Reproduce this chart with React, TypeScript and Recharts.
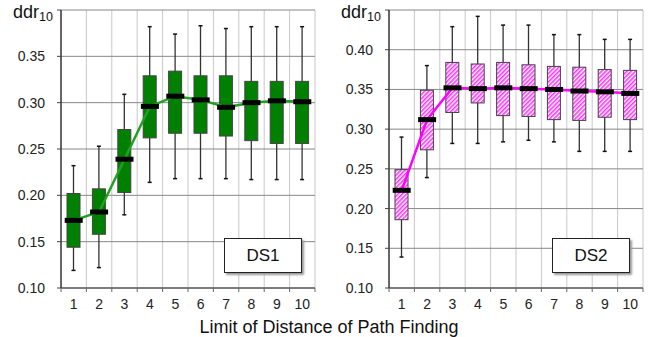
import React from "react";
import { ComposedChart, Bar, Line, XAxis, YAxis, CartesianGrid } from "recharts";

const categories = ["1", "2", "3", "4", "5", "6", "7", "8", "9", "10"];

const ds1Min = [0.119, 0.122, 0.179, 0.214, 0.218, 0.218, 0.218, 0.217, 0.217, 0.217];
const ds1Q1 = [0.144, 0.158, 0.203, 0.262, 0.267, 0.267, 0.264, 0.259, 0.256, 0.256];
const ds1Median = [0.173, 0.182, 0.239, 0.296, 0.307, 0.303, 0.295, 0.3, 0.302, 0.301];
const ds1Q3 = [0.202, 0.207, 0.271, 0.329, 0.334, 0.329, 0.329, 0.323, 0.323, 0.323];
const ds1Max = [0.232, 0.253, 0.309, 0.382, 0.374, 0.383, 0.38, 0.382, 0.382, 0.382];

const ds2Min = [0.139, 0.239, 0.282, 0.282, 0.284, 0.286, 0.284, 0.272, 0.272, 0.272];
const ds2Q1 = [0.186, 0.274, 0.321, 0.333, 0.317, 0.316, 0.312, 0.311, 0.315, 0.312];
const ds2Median = [0.223, 0.312, 0.352, 0.351, 0.352, 0.351, 0.35, 0.348, 0.347, 0.345];
const ds2Q3 = [0.249, 0.349, 0.384, 0.382, 0.384, 0.381, 0.379, 0.378, 0.375, 0.374];
const ds2Max = [0.29, 0.38, 0.429, 0.442, 0.431, 0.431, 0.419, 0.419, 0.413, 0.413];

const ds1Ticks = [0.1, 0.15, 0.2, 0.25, 0.3, 0.35, 0.4];
const ds2Ticks = [0.1, 0.15, 0.2, 0.25, 0.3, 0.35, 0.4, 0.45];

const FONT = "'Liberation Sans', Arial, sans-serif";
const PLOT_W = 254;

type Row = { cat: string; range: number[]; min: number; q1: number; median: number; q3: number; max: number };

function buildRows(mn: number[], q1: number[], md: number[], q3: number[], mx: number[]): Row[] {
  return categories.map((c, i) => ({
    cat: c,
    range: [mn[i], mx[i]],
    min: mn[i],
    q1: q1[i],
    median: md[i],
    q3: q3[i],
    max: mx[i],
  }));
}

const ds1Rows = buildRows(ds1Min, ds1Q1, ds1Median, ds1Q3, ds1Max);
const ds2Rows = buildRows(ds2Min, ds2Q1, ds2Median, ds2Q3, ds2Max);

// box + whiskers drawn inside the min..max range bar
function makeBox(fill: string) {
  return (props: any) => {
    const { x, y, width, height, payload } = props;
    const top = Math.min(y, y + height);
    const bottom = Math.max(y, y + height);
    const span = payload.max - payload.min;
    const py = (v: number) => bottom - ((v - payload.min) / span) * (bottom - top);
    const cx = x + width / 2;
    return (
      <g>
        <line x1={cx} x2={cx} y1={top} y2={bottom} stroke="#333" strokeWidth={1.3} />
        <line x1={cx - 2} x2={cx + 2} y1={top} y2={top} stroke="#111" strokeWidth={1.5} />
        <line x1={cx - 2} x2={cx + 2} y1={bottom} y2={bottom} stroke="#111" strokeWidth={1.5} />
        <rect x={x} y={py(payload.q3)} width={width} height={py(payload.q1) - py(payload.q3)} fill={fill} stroke="#444" strokeWidth={1} />
      </g>
    );
  };
}

const medianDot = (p: any) => (
  <rect key={"m" + p.index} x={p.cx - 9} y={p.cy - 2.5} width={18} height={5} fill="#000" />
);

function XTick(props: any) {
  const { x, y, payload, index } = props;
  const half = PLOT_W / categories.length / 2;
  const ay = y - 8;
  return (
    <g>
      <line x1={x - half} x2={x - half} y1={ay} y2={ay + 4} stroke="#666" />
      {index === categories.length - 1 && <line x1={x + half} x2={x + half} y1={ay} y2={ay + 4} stroke="#666" />}
      <text x={x} y={ay + 21} textAnchor="middle" fontSize={14} fill="#222" fontFamily={FONT}>
        {payload.value}
      </text>
    </g>
  );
}

function Panel({ rows, ticks, fill, lineColor, right, label }: any) {
  const top = ticks[ticks.length - 1];
  return (
    <ComposedChart width={right ? 320 : 330} height={337} data={rows} margin={{ top: 10, right: right ? 5 : 15, bottom: 27, left: 0 }}>
      <CartesianGrid
        horizontal={false}
        stroke="#c8c8c8"
        verticalCoordinatesGenerator={({ offset }: any) =>
          categories.map((_, i) => offset.left + ((i + 1) * offset.width) / categories.length)
        }
      />
      <CartesianGrid vertical={false} stroke="#888" />
      <XAxis dataKey="cat" height={22} tickLine={false} axisLine={{ stroke: "#666", strokeWidth: 1.5 }} tick={<XTick />} interval={0} />
      <YAxis
        width={61}
        domain={[ticks[0], top]}
        ticks={ticks}
        interval={0}
        tickSize={4}
        tickMargin={12}
        tickLine={{ stroke: "#444" }}
        axisLine={{ stroke: "#333", strokeWidth: 1.5 }}
        tickFormatter={(v: number) => (v >= top - 0.001 ? "" : v.toFixed(2))}
        tick={{ fontSize: 14, fill: "#222", fontFamily: FONT }}
      />
      <Bar dataKey="range" barSize={13} shape={makeBox(fill)} isAnimationActive={false} />
      <Line dataKey="median" stroke={lineColor} strokeWidth={2.5} dot={medianDot} activeDot={false} isAnimationActive={false} />
      <text x={13} y={18} fontSize={18} fill="#111" fontFamily={FONT}>
        ddr<tspan fontSize={12.5} dy={3}>10</tspan>
      </text>
    </ComposedChart>
  );
}

const dsBox = (left: number, text: string) => (
  <div
    style={{
      position: "absolute",
      left,
      top: 238,
      width: 76,
      height: 33,
      border: "1px solid #222",
      background: "#fff",
      boxShadow: "2px 2px 2px #999",
      fontFamily: FONT,
      fontSize: 17,
      lineHeight: "33px",
      textAlign: "center",
      color: "#111",
    }}
  >
    {text}
  </div>
);

export default function App() {
  return (
    <div style={{ position: "absolute", left: 0, top: 0, width: 648, height: 337, background: "#fff", overflow: "hidden" }}>
      <svg width={0} height={0} style={{ position: "absolute" }}>
        <defs>
          <pattern id="hatch" patternUnits="userSpaceOnUse" width={3} height={3} patternTransform="rotate(45)">
            <rect width={3} height={3} fill="#fff" />
            <rect width={1.6} height={3} fill="#ff33ff" />
          </pattern>
        </defs>
      </svg>
      <div style={{ position: "absolute", left: 0, top: 0 }}>
        <Panel rows={ds1Rows} ticks={ds1Ticks} fill="#008000" lineColor="#22a022" />
      </div>
      <div style={{ position: "absolute", left: 328, top: 0 }}>
        <Panel rows={ds2Rows} ticks={ds2Ticks} fill="url(#hatch)" lineColor="#ff00ff" right />
      </div>
      {dsBox(224, "DS1")}
      {dsBox(552, "DS2")}
      <div
        style={{
          position: "absolute",
          left: 329,
          top: 318,
          transform: "translateX(-50%)",
          whiteSpace: "nowrap",
          fontFamily: FONT,
          fontSize: 18,
          lineHeight: "18px",
          color: "#111",
        }}
      >
        Limit of Distance of Path Finding
      </div>
    </div>
  );
}
